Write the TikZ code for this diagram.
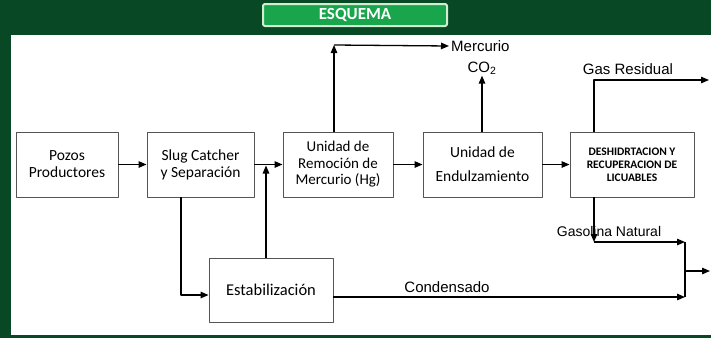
\documentclass[tikz,border=0pt]{standalone}
\usepackage{fontspec}
\setmainfont{Carlito}
\newfontfamily\arial{Liberation Sans}
\usetikzlibrary{arrows.meta}
\definecolor{verdeosc}{RGB}{8,72,36}
\definecolor{verdetit}{RGB}{24,165,76}
\definecolor{bordetit}{RGB}{210,238,210}
\definecolor{grisbox}{RGB}{85,85,85}
\begin{document}
\begin{tikzpicture}[x=1pt,y=-1pt,line join=bevel,>={Triangle[length=8pt,width=6.5pt]}]
  \tikzstyle{caja}=[draw=grisbox,line width=0.9pt,fill=white,align=center,inner sep=2pt,minimum height=65,font=\fontsize{15.5}{17}\selectfont]
  \tikzstyle{flujo}=[->,line width=1.3pt]
  \tikzstyle{etiq}=[inner sep=1pt,font=\arial\fontsize{15}{17}\selectfont]
  \useasboundingbox (0,0) rectangle (711,338);
  \fill[verdeosc] (0,0) rectangle (711,338);
  \fill[white] (11,35) rectangle (711,335);
  \node[fill=verdetit,draw=bordetit,line width=2pt,rounded corners=2pt,minimum width=184,minimum height=22,text=white,font=\bfseries\fontsize{17}{19}\selectfont] (titulo) at (355,15) {ESQUEMA};
  \node[caja,minimum width=102] (pozos) at (67,164.5) {Pozos\\Productores};
  \node[caja,minimum width=107] (slug) at (200.5,164.5) {Slug Catcher\\y Separación};
  \node[caja,minimum width=110,font=\fontsize{15}{16.5}\selectfont] (remo) at (338,164.5) {Unidad de\\Remoción de\\Mercurio (Hg)};
  \node[caja,minimum width=119] (endul) at (482.5,164.5) {Unidad de\\[7pt]Endulzamiento};
  \node[caja,minimum width=124,font=\bfseries\fontsize{11.5}{13}\selectfont] (deshi) at (632,164.5) {DESHIDRTACION Y\\RECUPERACION DE\\LICUABLES};
  \node[caja,minimum width=124,minimum height=64,font=\fontsize{16.5}{18}\selectfont] (estab) at (271,290) {Estabilización};
  \node[etiq,anchor=west] (mercurio) at (450,46) {Mercurio};
  \node[etiq] (co2) at (482,68) {CO\textsubscript{2}};
  \node[etiq] (gasres) at (628,69) {Gas Residual};
  \node[etiq,font=\arial\fontsize{14}{16}\selectfont] (gasnat) at (609,231) {Gasolina Natural};
  \node[etiq] (conden) at (447,287) {Condensado};
  \coordinate (union) at (266,164.5);
  \coordinate (esqHg) at (334,45);
  \coordinate (salGas) at (709,80);
  \coordinate (esqGN) at (594,242);
  \coordinate (colA) at (685,242);
  \coordinate (colB) at (685,297);
  \coordinate (colC) at (685,271);
  \coordinate (salida) at (710,271);
  \path[flujo] (pozos) edge (slug)
        (slug) edge (remo)
        (remo) edge (endul)
        (endul) edge (deshi);
  \draw[flujo] (slug.south -| 181,0) |- ([yshift=-5pt]estab.west);
  \draw[flujo] (estab.north -| union) -- ([yshift=-1pt]union);
  \draw[flujo] (remo.north -| esqHg) -- (esqHg);
  \draw[flujo] (esqHg) -- ([xshift=-1pt]mercurio.west);
  \draw[flujo] (endul.north -| co2) -- (co2.south);
  \draw[flujo] (deshi.north -| esqGN) |- (salGas);
  \draw[flujo] (deshi.south -| esqGN) -- (esqGN);
  \draw[flujo] (esqGN) -- (colA);
  \draw[flujo] (estab.east |- colB) -- (colB);
  \draw[line width=1.6pt] (colA) -- (colB);
  \draw[flujo] (colC) -- (salida);
\end{tikzpicture}
\end{document}
